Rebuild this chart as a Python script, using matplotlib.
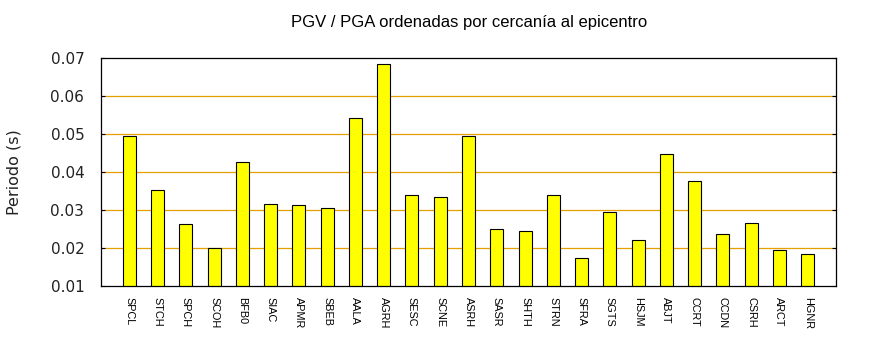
import matplotlib
matplotlib.use("Agg")
import matplotlib.pyplot as plt

stations = ["SPCL", "STCH", "SPCH", "SCOH", "BFB0", "SIAC", "APMR", "SBEB", "AALA", "AGRH",
            "SESC", "SCNE", "ASRH", "SASR", "SHTH", "STRN", "SFRA", "SGTS", "HSJM", "ABJT",
            "CCRT", "CCDN", "CSRH", "ARCT", "HGNR"]
values = [0.0495, 0.0353, 0.0263, 0.0200, 0.0426, 0.0316, 0.0313, 0.0305, 0.0542, 0.0684,
          0.0339, 0.0334, 0.0495, 0.0250, 0.0245, 0.0339, 0.0174, 0.0295, 0.0221, 0.0447,
          0.0376, 0.0237, 0.0266, 0.0195, 0.0184]
yticks = [0.01, 0.02, 0.03, 0.04, 0.05, 0.06, 0.07]
ytick_labels = ["0.01", "0.02", "0.03", "0.04", "0.05", "0.06", "0.07"]

fig = plt.figure(figsize=(8.7, 3.5), dpi=100)
ax = fig.add_axes([101/870, 1-286/350, (836-101)/870, (286-58)/350])

positions = list(range(1, len(stations) + 1))
ax.bar(positions, values, width=0.46, bottom=0, color="#FFFF00", edgecolor="black",
       linewidth=0.8, zorder=3)

for yv in yticks[1:-1]:
    ax.axhline(yv, color="#E5A000", linewidth=0.9, zorder=1)

ax.set_xlim(0, 26)
ax.set_ylim(0.01, 0.07)
ax.set_yticks(yticks)
ax.set_yticklabels(ytick_labels, fontsize=11, family="DejaVu Sans", color="#222222")
ax.set_xticks(positions)
ax.set_xticklabels(stations, rotation=270, fontsize=7.8, family="Liberation Sans",
                   va="top", ha="center")
ax.tick_params(axis="x", length=0, pad=8)
ax.tick_params(axis="y", direction="in", length=3, width=0.8, pad=12,
               right=True, left=True)
for s in ax.spines.values():
    s.set_linewidth(0.9)
    s.set_zorder(4)

ax.set_ylabel("Periodo (s)", fontsize=11.5, family="DejaVu Sans", labelpad=21,
              color="#222222")
fig.text(469/870, 1-23/350, "PGV / PGA ordenadas por cercanía al epicentro",
         ha="center", va="center", fontsize=12, family="Liberation Sans")

fig.savefig("out.png", dpi=100)
